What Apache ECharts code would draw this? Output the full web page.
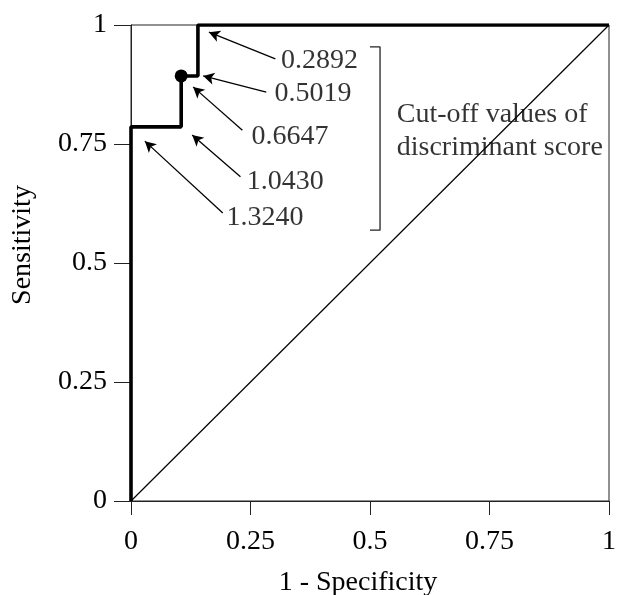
<!DOCTYPE html>
<html>
<head>
<meta charset="utf-8">
<script src="https://cdn.jsdelivr.net/npm/echarts@6/dist/echarts.min.js"></script>
<style>
  html, body { margin: 0; padding: 0; background: #fff; }
  #chart { width: 619px; height: 595px; }
</style>
</head>
<body>
<div id="chart"></div>
<script>
// ROC curve (1 - specificity, sensitivity)
const fpr = [0, 0, 0.105, 0.105, 0.14, 0.14, 1];
const tpr = [0, 0.786, 0.786, 0.893, 0.893, 1, 1];

// the chosen cut-off (dot)
const bestPoint = [0.105, 0.893];

// reference diagonal
const diagX = [0, 1];
const diagY = [0, 1];

// cut-off labels and their arrows (tail -> head), in data units
const cutoffLabels = ['0.2892', '0.5019', '0.6647', '1.0430', '1.3240'];
const labelX = [0.314, 0.300, 0.252, 0.242, 0.200];
const labelY = [0.926, 0.855, 0.765, 0.670, 0.595];
const arrowFromX = [0.302, 0.283, 0.233, 0.229, 0.192];
const arrowFromY = [0.929, 0.859, 0.779, 0.681, 0.605];
const arrowToX = [0.163, 0.151, 0.130, 0.128, 0.029];
const arrowToY = [0.985, 0.893, 0.870, 0.769, 0.756];

// bracket around the labels
const bracketX = [0.50, 0.521, 0.521, 0.50];
const bracketY = [0.954, 0.954, 0.569, 0.569];
const noteText = 'Cut-off values of\ndiscriminant score';
const notePos = [0.556, 0.776];

const tickValues = [0, 0.25, 0.5, 0.75, 1];
const tickLabels = ['0', '0.25', '0.5', '0.75', '1'];

const font = '"Liberation Serif", "Times New Roman", serif';
const ink = '#000';

const chart = echarts.init(document.getElementById('chart'));

const arrowData = cutoffLabels.map((_, i) => [
  { coord: [arrowFromX[i], arrowFromY[i]] },
  { coord: [arrowToX[i], arrowToY[i]] },
]);

const fmt = (v) => {
  const i = tickValues.indexOf(v);
  return i >= 0 ? tickLabels[i] : '';
};

const option = {
  animation: false,
  grid: {
    left: 131,
    right: 4,
    top: 25,
    bottom: 94,
    show: true,
    borderColor: '#222',
    borderWidth: 1,
  },
  xAxis: {
    type: 'value',
    min: 0,
    max: 1,
    interval: 0.25,
    splitLine: { show: false },
    axisLine: { lineStyle: { color: '#222', width: 1 } },
    axisTick: { length: 14, lineStyle: { color: '#222' } },
    axisLabel: {
      margin: 27,
      fontFamily: font,
      fontSize: 28,
      color: ink,
      formatter: fmt,
    },
  },
  yAxis: {
    type: 'value',
    min: 0,
    max: 1,
    interval: 0.25,
    splitLine: { show: false },
    axisLine: { show: true, lineStyle: { color: '#222', width: 1 } },
    axisTick: { show: true, length: 17, lineStyle: { color: '#222' } },
    axisLabel: {
      margin: 24,
      fontFamily: font,
      fontSize: 28,
      color: ink,
      formatter: fmt,
    },
  },
  graphic: [
    {
      type: 'text',
      x: 358,
      y: 583,
      style: {
        text: '1 - Specificity',
        font: '28px ' + font,
        fill: ink,
        textAlign: 'center',
        textVerticalAlign: 'middle',
      },
    },
    {
      type: 'text',
      x: 23,
      y: 245,
      rotation: Math.PI / 2,
      style: {
        text: 'Sensitivity',
        font: '28px ' + font,
        fill: ink,
        textAlign: 'center',
        textVerticalAlign: 'middle',
      },
    },
  ],
  series: [
    {
      name: 'diagonal',
      type: 'line',
      data: diagX.map((x, i) => [x, diagY[i]]),
      symbol: 'none',
      lineStyle: { color: ink, width: 1.2 },
      z: 2,
    },
    {
      name: 'ROC',
      type: 'line',
      data: fpr.map((x, i) => [x, tpr[i]]),
      symbol: 'none',
      lineStyle: { color: '#000', width: 3.6 },
      z: 4,
    },
    {
      name: 'best',
      type: 'scatter',
      data: [bestPoint],
      symbolSize: 13,
      itemStyle: { color: '#000', opacity: 1 },
      z: 5,
    },
    {
      name: 'arrows',
      type: 'line',
      data: [],
      markLine: {
        silent: true,
        symbol: ['none', 'arrow'],
        symbolSize: [9, 11],
        label: { show: false },
        lineStyle: { color: ink, width: 1.3, type: 'solid', opacity: 1 },
        data: arrowData,
      },
    },
    {
      name: 'labels',
      type: 'scatter',
      symbolSize: 0,
      data: cutoffLabels.map((t, i) => ({ value: [labelX[i], labelY[i]], name: t })),
      label: {
        show: true,
        position: 'right',
        distance: 0,
        formatter: (p) => p.name,
        fontFamily: font,
        fontSize: 28,
        color: ink,
      },
    },
    {
      name: 'bracket',
      type: 'line',
      data: bracketX.map((x, i) => [x, bracketY[i]]),
      symbol: 'none',
      lineStyle: { color: '#222', width: 1.3 },
    },
    {
      name: 'note',
      type: 'scatter',
      symbolSize: 0,
      data: [{ value: notePos, name: noteText }],
      label: {
        show: true,
        position: 'right',
        distance: 0,
        formatter: (p) => p.name,
        fontFamily: font,
        fontSize: 28,
        lineHeight: 33,
        color: ink,
      },
    },
  ],
};

chart.setOption(option);
</script>
</body>
</html>
